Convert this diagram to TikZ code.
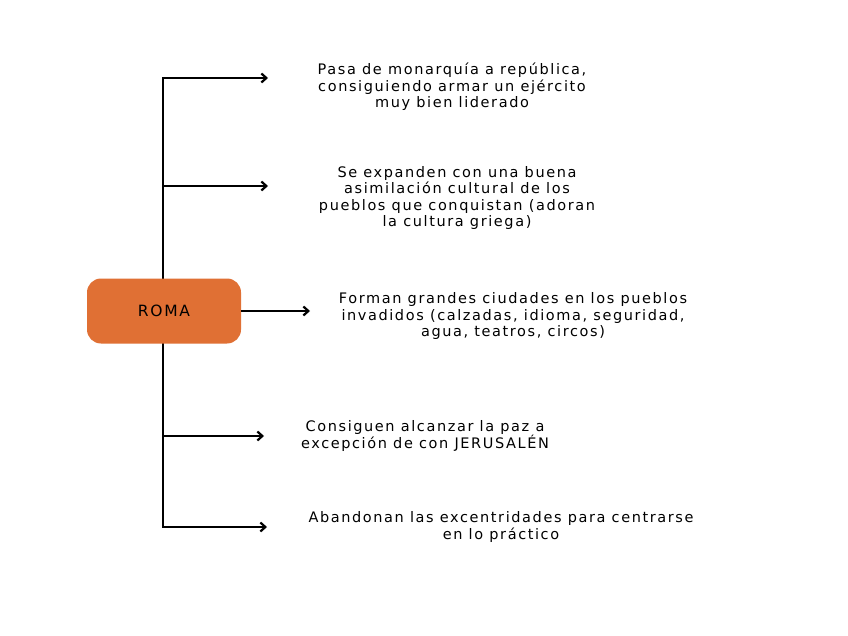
\documentclass[tikz,border=0pt]{standalone}
\usepackage{fontspec}
\setmainfont{DejaVu Sans}[LetterSpace=11]
\usetikzlibrary{arrows.meta}
\definecolor{romaorange}{HTML}{E07034}
\tikzset{
  trunk/.style={line width=2.2pt, line cap=rect},
  arr/.style={line width=2.2pt, -{Straight Barb[length=5pt,width=9pt,line width=2.2pt]}},
  txt/.style={align=center, font=\fontsize{14.5}{16.5}\selectfont, inner sep=0pt},
  mainbox/.style={fill=romaorange, rounded corners=14pt, minimum width=154pt, minimum height=65pt, inner sep=0pt, font=\fontsize{15.5}{17}\selectfont}
}
\begin{document}
\begin{tikzpicture}[x=1pt,y=-1pt]
\useasboundingbox (0,0) rectangle (848,636);
\fill[white] (0,0) rectangle (848,636);
\coordinate (c1) at (163,78);
\coordinate (c2) at (163,186);
\coordinate (c4) at (163,436);
\coordinate (c5) at (163,527);
\coordinate (e1) at (268,78);
\coordinate (e2) at (268,186);
\coordinate (e3) at (310,311);
\coordinate (e4) at (264,436);
\coordinate (e5) at (267,527);
\draw[trunk] (c1) -- (c5);
\node[mainbox] (roma) at (164,311) {ROMA};
\draw[arr] (roma.east) -- (e3);
\draw[arr] (c1) -- (e1);
\draw[arr] (c2) -- (e2);
\draw[arr] (c4) -- (e4);
\draw[arr] (c5) -- (e5);
\node[txt] (t1) at (452,87) {Pasa de monarquía a república,\\consiguiendo armar un ejército\\muy bien liderado};
\node[txt] (t2) at (457,198) {Se expanden con una buena\\asimilación cultural de los\\pueblos que conquistan (adoran\\la cultura griega)};
\node[txt] (t3) at (513,316) {Forman grandes ciudades en los pueblos\\invadidos (calzadas, idioma, seguridad,\\agua, teatros, circos)};
\node[txt] (t4) at (425,436) {Consiguen alcanzar la paz a\\excepción de con JERUSALÉN};
\node[txt] (t5) at (501,527) {Abandonan las excentridades para centrarse\\en lo práctico};
\end{tikzpicture}
\end{document}
